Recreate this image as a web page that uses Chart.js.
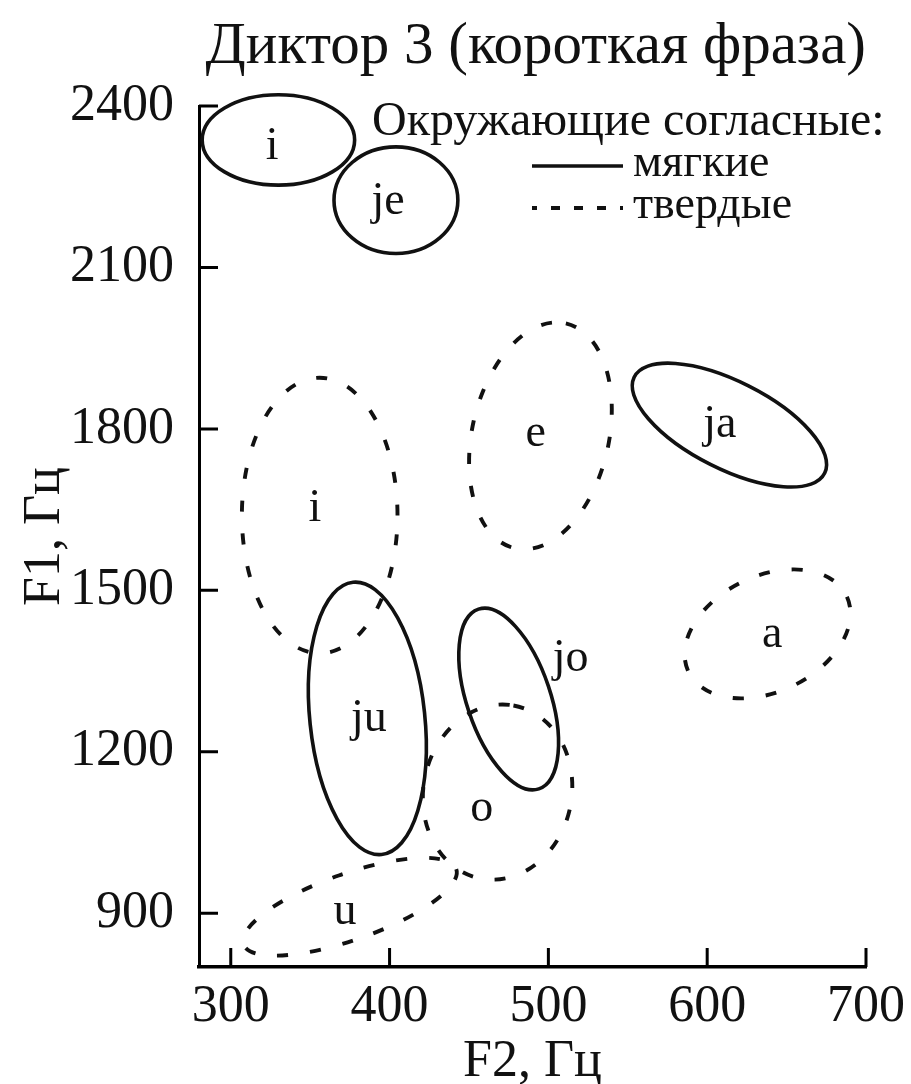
<!DOCTYPE html>
<html lang="ru">
<head>
<meta charset="utf-8">
<title>Диктор 3 (короткая фраза)</title>
<script src="https://cdn.jsdelivr.net/npm/chart.js@4.4.1/dist/chart.umd.min.js"></script>
<style>
  html, body { margin: 0; padding: 0; background: #fff; }
  canvas { display: block; }
</style>
</head>
<body>
<canvas id="formantChart" width="911" height="1084"></canvas>
<script>
// axis ticks
const f2Ticks = [300, 400, 500, 600, 700];
const f1Ticks = [900, 1200, 1500, 1800, 2100, 2400];

// soft surrounding consonants (solid outlines)
const softVowels = ['i', 'je', 'ja', 'ju', 'jo'];
const softF2 = [330, 404, 614, 386, 475];
const softF1 = [2337, 2225, 1807, 1262, 1298];
// half-axes of each ellipse, [dF2, dF1] in Hz
const softAxisA = [[48, 0], [39, 0], [60, -89], [-9, 253], [-19, 167]];
const softAxisB = [[0, 84], [0, 99], [-12, -73], [36, 11], [25, 24]];
const softLabelF2 = [326, 399, 608, 387, 514];
const softLabelF1 = [2324, 2222, 1807, 1261, 1372];

// hard surrounding consonants (dashed outlines)
const hardVowels = ['i', 'e', 'a', 'o', 'u'];
const hardF2 = [356, 495, 638, 468, 375];
const hardF1 = [1639, 1787, 1419, 1125, 912];
const hardAxisA = [[49, 0], [16, 209], [50, 69], [10, 161], [67, 70]];
const hardAxisB = [[0, 256], [42, -28], [15, -98], [46, -24], [7, -58]];
const hardLabelF2 = [353, 492, 641, 458, 372];
const hardLabelF1 = [1651, 1791, 1417, 1094, 902];

const FONT = '"Liberation Serif", "Times New Roman", serif';
Chart.defaults.font.family = FONT;
Chart.defaults.color = '#111';

function buildEllipses(names, f2, f1, axA, axB, lf2, lf1) {
    return names.map((name, i) => ({
        name: name, f2: f2[i], f1: f1[i], a: axA[i], b: axB[i], lf2: lf2[i], lf1: lf1[i]
    }));
}

// draws the outlines, vowel labels, inner tick marks and the legend
const ellipsePlugin = {
    id: 'ellipses',
    afterDatasetsDraw(chart, args, opts) {
        const { ctx, scales: { x, y } } = chart;
        chart.data.datasets.forEach(ds => {
            ds.ellipses.forEach(e => {
                const cx = x.getPixelForValue(e.f2);
                const cy = y.getPixelForValue(e.f1);
                const ax = x.getPixelForValue(e.f2 + e.a[0]) - cx;
                const ay = y.getPixelForValue(e.f1 + e.a[1]) - cy;
                const bx = x.getPixelForValue(e.f2 + e.b[0]) - cx;
                const by = y.getPixelForValue(e.f1 + e.b[1]) - cy;
                ctx.save();
                ctx.beginPath();
                ctx.transform(ax, ay, bx, by, cx, cy);
                ctx.arc(0, 0, 1, 0, Math.PI * 2);
                ctx.restore();
                ctx.save();
                ctx.lineWidth = ds.borderWidth;
                ctx.strokeStyle = ds.borderColor;
                ctx.setLineDash(ds.borderDash);
                ctx.stroke();
                ctx.restore();

                ctx.save();
                ctx.font = opts.labelSize + 'px ' + FONT;
                ctx.fillStyle = '#111';
                ctx.textAlign = 'center';
                ctx.textBaseline = 'middle';
                ctx.fillText(e.name, x.getPixelForValue(e.lf2), y.getPixelForValue(e.lf1));
                ctx.restore();
            });
        });
    },
    afterDraw(chart, args, opts) {
        const { ctx, chartArea, scales: { x, y } } = chart;
        ctx.save();
        ctx.strokeStyle = '#000';
        ctx.lineWidth = 3;
        ctx.beginPath();
        x.ticks.forEach(t => {
            const px = x.getPixelForValue(t.value);
            ctx.moveTo(px, chartArea.bottom);
            ctx.lineTo(px, chartArea.bottom - opts.tickLength);
        });
        y.ticks.forEach(t => {
            const py = y.getPixelForValue(t.value);
            ctx.moveTo(chartArea.left, py);
            ctx.lineTo(chartArea.left + opts.tickLength, py);
        });
        ctx.stroke();

        // legend
        const lg = opts.legend;
        ctx.fillStyle = '#111';
        ctx.font = lg.headingSize + 'px ' + FONT;
        ctx.textAlign = 'left';
        ctx.textBaseline = 'alphabetic';
        ctx.fillText(lg.heading, lg.headingX, lg.headingY);
        ctx.font = lg.size + 'px ' + FONT;
        chart.data.datasets.forEach((ds, i) => {
            const ly = lg.rowY[i];
            ctx.save();
            ctx.lineWidth = ds.borderWidth;
            ctx.strokeStyle = ds.borderColor;
            ctx.setLineDash(ds.borderDash.length ? lg.dash : []);
            ctx.lineDashOffset = lg.dashOffset;
            ctx.beginPath();
            ctx.moveTo(lg.lineX0, ly);
            ctx.lineTo(lg.lineX1, ly);
            ctx.stroke();
            ctx.restore();
            ctx.textBaseline = 'middle';
            ctx.fillText(ds.label, lg.textX, ly - 2);
        });
        ctx.restore();
    }
};

const ctx = document.getElementById('formantChart').getContext('2d');
new Chart(ctx, {
    type: 'scatter',
    data: {
        datasets: [
            {
                label: 'мягкие',
                data: softF2.map((v, i) => ({ x: v, y: softF1[i] })),
                ellipses: buildEllipses(softVowels, softF2, softF1, softAxisA, softAxisB, softLabelF2, softLabelF1),
                borderColor: '#111',
                borderWidth: 3.6,
                borderDash: [],
                pointRadius: 0
            },
            {
                label: 'твердые',
                data: hardF2.map((v, i) => ({ x: v, y: hardF1[i] })),
                ellipses: buildEllipses(hardVowels, hardF2, hardF1, hardAxisA, hardAxisB, hardLabelF2, hardLabelF1),
                borderColor: '#111',
                borderWidth: 3.9,
                borderDash: [11, 22],
                pointRadius: 0
            }
        ]
    },
    options: {
        responsive: false,
        animation: false,
        layout: { padding: { top: 0, right: 45, bottom: 0, left: 0 } },
        plugins: {
            legend: { display: false },
            tooltip: { enabled: false },
            title: {
                display: true,
                text: 'Диктор 3 (короткая фраза)',
                align: 'end',
                color: '#111',
                font: { size: 59, weight: 'normal', lineHeight: 1 },
                padding: { top: 18, bottom: 29 }
            },
            ellipses: {
                labelSize: 46,
                tickLength: 19,
                legend: {
                    heading: 'Окружающие согласные:',
                    headingSize: 48,
                    size: 46,
                    headingX: 372,
                    headingY: 135,
                    rowY: [166, 208],
                    lineX0: 532,
                    lineX1: 623,
                    textX: 633,
                    dash: [9, 14],
                    dashOffset: 4
                }
            }
        },
        scales: {
            x: {
                type: 'linear',
                min: 280,
                max: 700,
                afterBuildTicks: s => { s.ticks = f2Ticks.map(v => ({ value: v })); },
                afterFit: s => { s.height = 117; },
                grid: { display: false },
                border: { display: true, color: '#000', width: 3.5 },
                ticks: {
                    color: '#111',
                    font: { size: 52, lineHeight: 1 },
                    padding: 6,
                    callback: v => String(v)
                },
                title: {
                    display: true,
                    text: 'F2, Гц',
                    color: '#111',
                    font: { size: 52, lineHeight: 1 },
                    padding: { top: 0, bottom: -4 }
                }
            },
            y: {
                type: 'linear',
                min: 800,
                max: 2400,
                afterBuildTicks: s => { s.ticks = f1Ticks.map(v => ({ value: v })); },
                afterFit: s => { s.width = 199; },
                grid: { display: false },
                border: { display: true, color: '#000', width: 3 },
                ticks: {
                    color: '#111',
                    font: { size: 52, lineHeight: 1 },
                    padding: 17,
                    callback: v => String(v)
                },
                title: {
                    display: true,
                    text: 'F1, Гц',
                    color: '#111',
                    font: { size: 52, lineHeight: 1 },
                    padding: { top: 19, bottom: 0 }
                }
            }
        }
    },
    plugins: [ellipsePlugin]
});
</script>
</body>
</html>
